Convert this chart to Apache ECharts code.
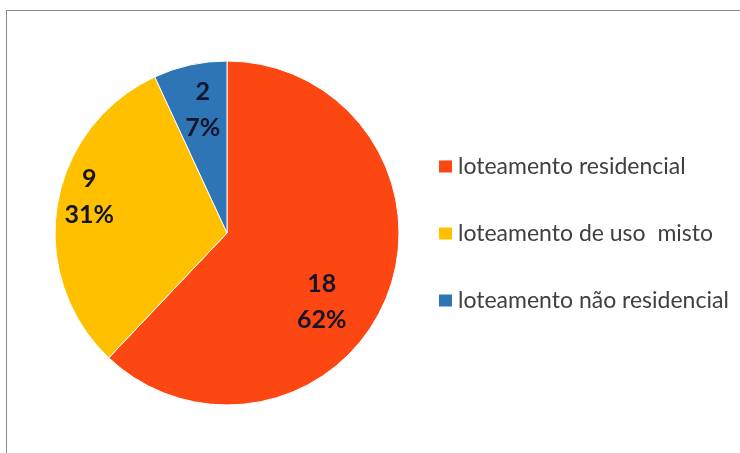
<!DOCTYPE html>
<html><head><meta charset="utf-8">
<script src="https://cdn.jsdelivr.net/npm/echarts@6/dist/echarts.min.js"></script>
<style>
html,body{margin:0;padding:0;background:#fff;}
#frame{position:absolute;left:6px;top:10px;width:800px;height:500px;border-top:1px solid #8a8a8a;border-left:1px solid #8a8a8a;}
#chart{position:absolute;left:0;top:0;width:740px;height:453px;}
</style></head>
<body>
<div id="frame"></div>
<div id="chart"></div>
<script>
const categories = ['loteamento residencial', 'loteamento de uso  misto', 'loteamento não residencial'];
const values = [18, 9, 2];
const colors = ['#FC4712', '#FFC000', '#2E75B6'];
const labelOffsets = [[12, 36], [-50, -22], [-5, -36]];

const chart = echarts.init(document.getElementById('chart'));
chart.setOption({
  animation: false,
  legend: {
    orient: 'vertical',
    left: 437,
    top: 155,
    padding: 0,
    itemWidth: 15,
    itemHeight: 14,
    itemGap: 44,
    icon: 'rect',
    textStyle: { fontFamily: 'Lato', fontSize: 23, lineHeight: 23, color: '#404040' },
    data: categories
  },
  series: [{
    type: 'pie',
    center: [227, 233],
    radius: 172,
    startAngle: 90,
    clockwise: true,
    percentPrecision: 0,
    itemStyle: { borderColor: '#fff', borderWidth: 1 },
    label: {
      position: 'inside',
      formatter: '{c}\n{d}%',
      fontFamily: 'Lato',
      fontWeight: 'bold',
      fontSize: 25,
      lineHeight: 36,
      color: '#14142a'
    },
    labelLine: { show: false },
    emphasis: { disabled: true },
    data: categories.map((n, i) => ({
      name: n,
      value: values[i],
      itemStyle: { color: colors[i] },
      label: { offset: labelOffsets[i] }
    }))
  }]
});
</script>
</body></html>
